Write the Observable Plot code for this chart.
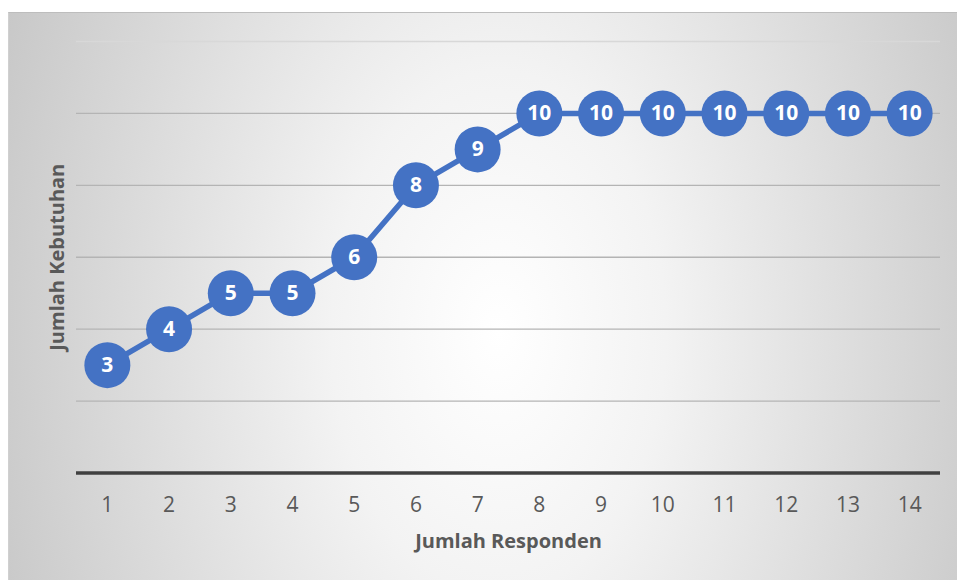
<!DOCTYPE html>
<html>
<head>
<meta charset="utf-8">
<script src="https://cdn.jsdelivr.net/npm/d3@7"></script>
<script src="https://cdn.jsdelivr.net/npm/@observablehq/plot@0.6"></script>
<style>
  html, body { margin: 0; padding: 0; background: #ffffff; }
  #wrap { position: relative; width: 957px; height: 580px; overflow: hidden; }
  #bg {
    position: absolute; left: 8px; top: 12px; width: 960px; height: 580px;
    border-top: 1px solid #bdbdbd; border-left: 1px solid #d0d0d0;
    background: radial-gradient(ellipse 58% 150% at 51% 55%, #ffffff 0%, #f3f3f3 30%, #c5c5c5 100%);
  }
  #chart { position: absolute; left: 0; top: 0; }
  #chart svg { background: transparent !important; }
</style>
</head>
<body>
<div id="wrap"><div id="bg"></div><div id="chart"></div></div>
<script>
const responden = [1, 2, 3, 4, 5, 6, 7, 8, 9, 10, 11, 12, 13, 14];
const kebutuhan = [3, 4, 5, 5, 6, 8, 9, 10, 10, 10, 10, 10, 10, 10];
const gridValues = [2, 4, 6, 8, 10];
const topGrid = [12];
const xTitle = "Jumlah Responden";
const yTitle = "Jumlah Kebutuhan";

const data = responden.map((r, i) => ({r, v: kebutuhan[i]}));
const blue = "#4472C4";
const font = "'Open Sans', sans-serif";

const chart = Plot.plot({
  width: 957,
  height: 580,
  marginLeft: 76,
  marginRight: 17,
  marginTop: 41,
  marginBottom: 107.5,
  style: {background: "transparent", fontFamily: font},
  x: {type: "point", domain: responden, padding: 0.5, round: false, axis: null},
  y: {domain: [0, 12], axis: null},
  marks: [
    Plot.ruleY(gridValues, {stroke: "#b4b4b4", strokeWidth: 1.3}),
    Plot.ruleY(topGrid, {stroke: "#d8d8d8", strokeWidth: 1.3}),
    Plot.ruleY([0], {stroke: "#404040", strokeWidth: 3.5}),
    Plot.axisX({tickSize: 0, tickPadding: 24, fontSize: 21, color: "#595959", label: null}),
    Plot.line(data, {x: "r", y: "v", stroke: blue, strokeWidth: 5.5}),
    Plot.dot(data, {x: "r", y: "v", r: 23, fill: blue, stroke: "none"}),
    Plot.text(data, {x: "r", y: "v", text: d => String(d.v), fill: "white", fontWeight: "bold", fontSize: 21, fontFamily: font}),
    Plot.text([xTitle], {frameAnchor: "bottom", lineAnchor: "middle", dy: 69, text: d => d, fontWeight: "bold", fontSize: 20, fill: "#595959", fontFamily: font}),
    Plot.text([yTitle], {frameAnchor: "left", textAnchor: "middle", lineAnchor: "middle", dx: -19, rotate: -90, text: d => d, fontWeight: "bold", fontSize: 20, fill: "#595959", fontFamily: font})
  ]
});
document.getElementById("chart").appendChild(chart);
</script>
</body>
</html>
